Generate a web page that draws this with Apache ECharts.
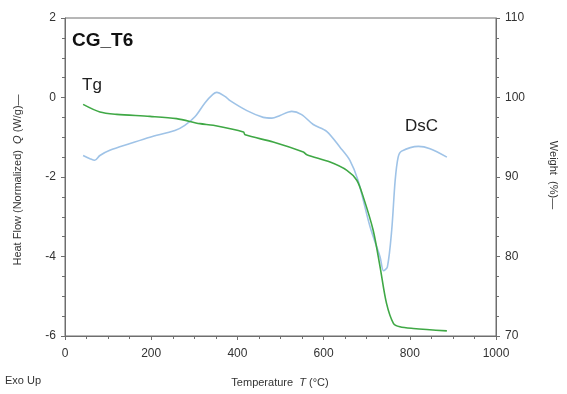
<!DOCTYPE html>
<html><head><meta charset="utf-8">
<script src="https://cdn.jsdelivr.net/npm/echarts@6/dist/echarts.min.js"></script>
<style>html,body{margin:0;padding:0;background:#fff}#c{width:567px;height:394px}</style>
</head><body><div id="c"></div>
<script>
// Temperature (°C) and heat flow (W/g) for the DSC curve
const dscTemp = [42,58,69,81,104,151,197,255,278,302,325,343,352,371,383,422,460,480,499,526,549,576,607,638,661,680,708,731,739,748,758,766,773,781,820,847,886];
const dscHeat = [-1.46,-1.54,-1.58,-1.46,-1.33,-1.16,-1.0,-0.83,-0.70,-0.48,-0.13,0.08,0.13,0.03,-0.08,-0.33,-0.50,-0.52,-0.45,-0.35,-0.43,-0.68,-0.85,-1.25,-1.58,-2.09,-3.26,-4.01,-4.36,-4.26,-3.34,-2.09,-1.5,-1.35,-1.23,-1.29,-1.5];
// Temperature (°C) and weight (%) for the TGA curve
const tgaTemp = [42,81,120,197,259,313,344,414,418,483,553,561,615,654,677,692,715,731,746,762,777,808,886];
const tgaWeight = [99.13,98.17,97.88,97.63,97.34,96.71,96.5,95.65,95.3,94.4,93.14,92.8,91.88,90.84,89.59,87.5,83.3,78.7,74.1,71.6,71.16,70.95,70.65];
// Axis ranges / ticks
const xTicks = [0, 1000, 200];
const leftTicks = [-6, 2, 2];
const rightTicks = [70, 110, 10];

const zip = (a, b) => a.map((v, i) => [v, b[i]]);
const axisCol = '#6e6e6e';
const lblCol = '#333';
const FF = 'Liberation Sans, Arial, sans-serif';

const chart = echarts.init(document.getElementById('c'), null, {renderer: 'canvas'});
chart.setOption({
  animation: false,
  backgroundColor: '#fff',
  grid: {left: 65, right: 71, top: 18, bottom: 58, show: true, borderColor: axisCol, borderWidth: 1},
  xAxis: {
    type: 'value', min: xTicks[0], max: xTicks[1], interval: xTicks[2],
    axisLine: {show: true, onZero: false, lineStyle: {color: axisCol}},
    axisTick: {show: true, length: 4, lineStyle: {color: axisCol}},
    minorTick: {show: true, splitNumber: 4, length: 3, lineStyle: {color: axisCol}},
    splitLine: {show: false},
    axisLabel: {color: lblCol, fontSize: 12, fontFamily: FF, margin: 12, formatter: v => String(v)}
  },
  yAxis: [{
    type: 'value', min: leftTicks[0], max: leftTicks[1], interval: leftTicks[2], position: 'left',
    axisLine: {show: true, lineStyle: {color: axisCol}},
    axisTick: {show: true, length: 4, lineStyle: {color: axisCol}},
    minorTick: {show: true, splitNumber: 4, length: 3, lineStyle: {color: axisCol}},
    splitLine: {show: false},
    axisLabel: {color: lblCol, fontSize: 12, fontFamily: FF, margin: 9}
  }, {
    type: 'value', min: rightTicks[0], max: rightTicks[1], interval: rightTicks[2], position: 'right',
    axisLine: {show: true, lineStyle: {color: axisCol}},
    axisTick: {show: true, length: 4, lineStyle: {color: axisCol}},
    minorTick: {show: true, splitNumber: 4, length: 3, lineStyle: {color: axisCol}},
    splitLine: {show: false},
    axisLabel: {color: lblCol, fontSize: 12, fontFamily: FF, margin: 9}
  }],
  series: [{
    type: 'line', yAxisIndex: 0, data: zip(dscTemp, dscHeat), showSymbol: false, smooth: 0.3,
    lineStyle: {color: '#9fc3e7', width: 1.6}, z: 2
  }, {
    type: 'line', yAxisIndex: 1, data: zip(tgaTemp, tgaWeight), showSymbol: false, smooth: 0.3,
    lineStyle: {color: '#3fa845', width: 1.6}, z: 3
  }],
  graphic: [
    {type: 'text', left: 72, top: 31, style: {text: 'CG_T6', font: 'bold 19px ' + FF, fill: '#111'}},
    {type: 'text', left: 82, top: 77, style: {text: 'Tg', font: '17px ' + FF, fill: '#222'}},
    {type: 'text', left: 405, top: 118, style: {text: 'DsC', font: '17px ' + FF, fill: '#222'}},
    {type: 'text', left: 5, top: 375, style: {text: 'Exo Up', font: '11px ' + FF, fill: '#333'}},
    {type: 'text', x: 280, y: 383, style: {
      text: '{a|Temperature  }{i|T}{a| (°C)}', align: 'center', verticalAlign: 'middle',
      rich: {a: {fontSize: 11, fontFamily: FF, fill: '#333'}, i: {fontSize: 11, fontFamily: FF, fontStyle: 'italic', fill: '#333'}}
    }},
    {type: 'text', x: 18, y: 180, rotation: Math.PI / 2, style: {
      text: '{a|Heat Flow (Normalized)  }{i|Q}{a| (W/g)—}', align: 'center', verticalAlign: 'middle',
      rich: {a: {fontSize: 11, fontFamily: FF, fill: '#333'}, i: {fontSize: 11, fontFamily: FF, fontStyle: 'italic', fill: '#333'}}
    }},
    {type: 'text', x: 553, y: 175, rotation: -Math.PI / 2, style: {
      text: 'Weight  (%)—', align: 'center', verticalAlign: 'middle', font: '11px ' + FF, fill: '#333'
    }}
  ]
});
</script></body></html>
